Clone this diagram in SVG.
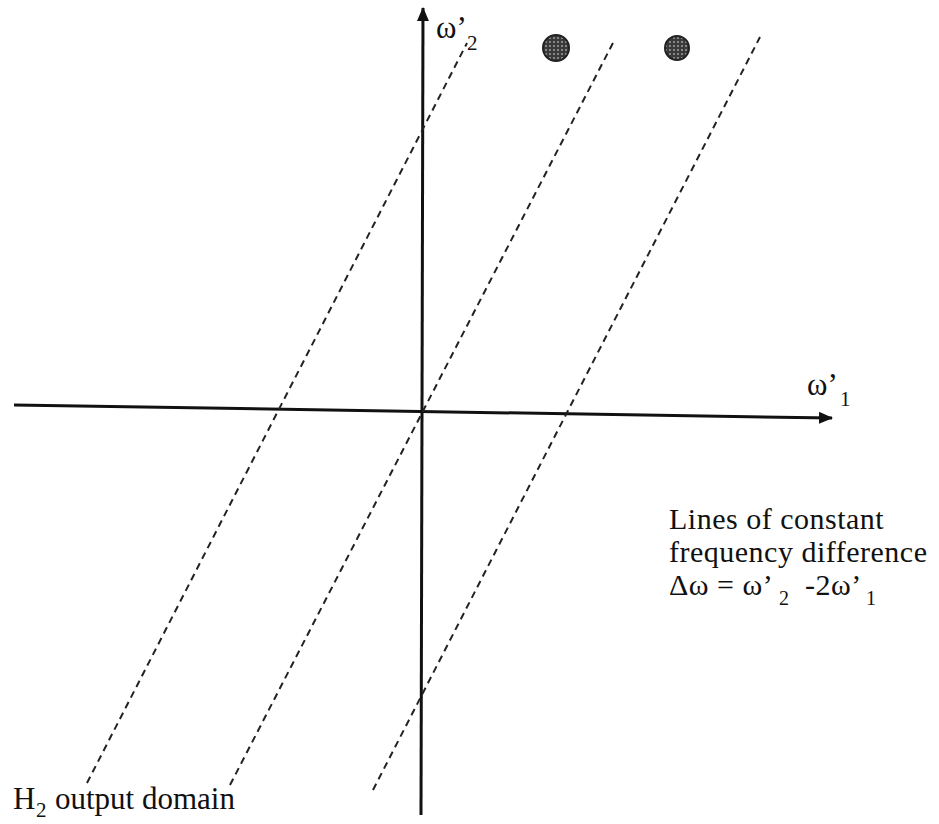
<svg xmlns="http://www.w3.org/2000/svg" width="939" height="824" viewBox="0 0 939 824">
  <style>
    .axis { stroke: #111; stroke-width: 3; fill: none; }
    .dash { stroke: #222; stroke-width: 2; stroke-dasharray: 7 5; fill: none; }
    .t { font-family: "Liberation Serif", "Times New Roman", serif; font-size: 31px; fill: #111; }
    .s { font-family: "Liberation Serif", "Times New Roman", serif; font-size: 21px; fill: #111; }
    .bt { font-family: "Liberation Serif", "Times New Roman", serif; font-size: 30px; letter-spacing: 0.5px; fill: #111; }
    .bs { font-family: "Liberation Serif", "Times New Roman", serif; font-size: 20px; fill: #111; }
  </style>
  <defs>
    <marker id="arrow" markerWidth="14" markerHeight="12" refX="13" refY="6" orient="auto" markerUnits="userSpaceOnUse">
      <path d="M0,0 L14,6 L0,12 Z" fill="#111"/>
    </marker>
    <pattern id="stipple" width="4" height="4" patternUnits="userSpaceOnUse">
      <rect width="4" height="4" fill="#3a3a3a"/>
      <circle cx="2" cy="2" r="0.9" fill="#aaa"/>
    </pattern>
  </defs>
  <rect width="939" height="824" fill="#fff"/>

  <g id="connectors">
    <line id="axis-w1" class="axis" x1="14" y1="405" x2="832" y2="418" marker-end="url(#arrow)"/>
    <line id="axis-w2" class="axis" x1="421" y1="815" x2="423" y2="8" marker-end="url(#arrow)"/>
    <line id="line-a" class="dash" x1="87" y1="783" x2="467" y2="43"/>
    <line id="line-b" class="dash" x1="230" y1="785" x2="615" y2="39"/>
    <line id="line-c" class="dash" x1="373" y1="790" x2="760" y2="37"/>
  </g>

  <g id="dot-1">
    <circle cx="556" cy="48" r="13" fill="url(#stipple)" stroke="#222" stroke-width="2"/>
  </g>
  <g id="dot-2">
    <circle cx="677" cy="48" r="12" fill="url(#stipple)" stroke="#222" stroke-width="2"/>
  </g>

  <g id="label-w2">
    <text class="t" x="436" y="38">ω’</text>
    <text class="s" x="467" y="50">2</text>
  </g>

  <g id="label-w1">
    <text class="t" x="807" y="395">ω’</text>
    <text class="s" x="840" y="406">1</text>
  </g>

  <g id="label-lines">
    <text class="bt" x="669" y="529">Lines of constant</text>
    <text class="bt" x="669" y="562">frequency difference</text>
    <text class="bt" x="669" y="595">Δω = ω’</text>
    <text class="bs" x="779" y="605">2</text>
    <text class="bt" x="805" y="595">-2ω’</text>
    <text class="bs" x="866" y="605">1</text>
  </g>

  <g id="label-h2">
    <text class="t" x="13" y="809">H</text>
    <text class="s" x="36" y="817">2</text>
    <text class="t" x="55" y="809">output domain</text>
  </g>
</svg>
